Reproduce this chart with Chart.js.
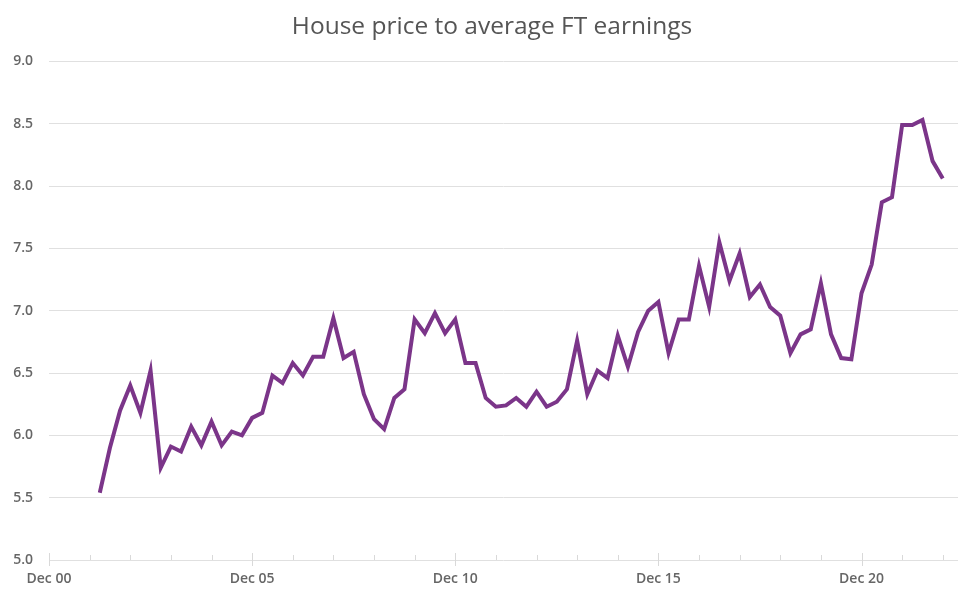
<!DOCTYPE html>
<html>
<head>
<meta charset="utf-8">
<title>House price to average FT earnings</title>
<script src="https://cdn.jsdelivr.net/npm/chart.js@4"></script>
<style>
  html, body { margin: 0; padding: 0; background: #fff; }
  #wrap { width: 958px; height: 589px; }
</style>
</head>
<body>
<div id="wrap"><canvas id="ratioCanvas"></canvas></div>
<script>
// quarter index counted from Dec 2000 (0 = Dec 00, 4 = Dec 01, ...)
const firstQuarter = 5;

const ratio = [
  5.54, 5.90, 6.20, 6.40, 6.18, 6.52, 5.74, 5.91, 5.87, 6.07,
  5.92, 6.11, 5.92, 6.03, 6.00, 6.14, 6.18, 6.48, 6.42, 6.58,
  6.48, 6.63, 6.63, 6.94, 6.62, 6.67, 6.33, 6.13, 6.05, 6.30,
  6.37, 6.93, 6.82, 6.98, 6.82, 6.93, 6.58, 6.58, 6.30, 6.23,
  6.24, 6.30, 6.23, 6.35, 6.23, 6.27, 6.37, 6.76, 6.33, 6.52,
  6.46, 6.80, 6.55, 6.83, 7.00, 7.07, 6.66, 6.93, 6.93, 7.36,
  7.03, 7.55, 7.24, 7.46, 7.11, 7.21, 7.03, 6.96, 6.66, 6.81,
  6.85, 7.22, 6.81, 6.62, 6.61, 7.14, 7.37, 7.87, 7.91, 8.49,
  8.49, 8.53, 8.20, 8.06
];

const yearTicks = [0, 4, 8, 12, 16, 20, 24, 28, 32, 36, 40, 44, 48, 52, 56, 60, 64, 68, 72, 76, 80, 84, 88];
const yTicks = [5.0, 5.5, 6.0, 6.5, 7.0, 7.5, 8.0, 8.5, 9.0];

const points = ratio.map((v, i) => ({ x: firstQuarter + i, y: v }));

function decLabel(q) {
  const yr = q / 4;
  return "Dec " + String(yr).padStart(2, "0");
}

// small year ticks, longer ones every five years
const xTickMarks = {
  id: "xTickMarks",
  afterLayout(chart) {
    // title sits a little right of the canvas centre
    if (chart.titleBlock) {
      chart.titleBlock.left += 13;
      chart.titleBlock.right += 13;
    }
  },
  afterDraw(chart) {
    const sx = chart.scales.x;
    const bottom = chart.chartArea.bottom;
    const ctx = chart.ctx;
    ctx.save();
    ctx.strokeStyle = "#d9d9d9";
    ctx.lineWidth = 1;
    yearTicks.forEach((q) => {
      const px = Math.round(sx.getPixelForValue(q)) + 0.5;
      ctx.beginPath();
      if (q % 20 === 0) {
        ctx.moveTo(px, bottom - 7);
        ctx.lineTo(px, bottom + 6);
      } else {
        ctx.moveTo(px, bottom - 5);
        ctx.lineTo(px, bottom);
      }
      ctx.stroke();
    });
    ctx.restore();
  }
};

Chart.defaults.font.family = "'Open Sans', 'Noto Sans', sans-serif";

const config = {
  type: "line",
  data: {
    datasets: [
      {
        label: "House price to average FT earnings",
        data: points,
        borderColor: "#7b3589",
        backgroundColor: "#7b3589",
        borderWidth: 4,
        pointRadius: 0,
        tension: 0,
      },
    ],
  },
  options: {
    responsive: true,
    maintainAspectRatio: false,
    animation: false,
    layout: { padding: { top: 12, left: 0, right: 0, bottom: 0 } },
    plugins: {
      legend: { display: false },
      tooltip: { enabled: false },
      title: {
        display: true,
        text: "House price to average FT earnings",
        color: "#555555",
        font: { size: 24.5, weight: "normal" },
        padding: { top: 0, bottom: 20 },
      },
    },
    scales: {
      x: {
        type: "linear",
        min: 0,
        max: 89.5,
        afterBuildTicks: (scale) => {
          scale.ticks = yearTicks.map((v) => ({ value: v }));
        },
        afterFit: (scale) => {
          scale.height = 29;
        },
        grid: { display: false, drawTicks: false },
        border: { display: false },
        ticks: {
          autoSkip: false,
          maxRotation: 0,
          padding: 11,
          color: "#666666",
          font: { size: 14, weight: "600" },
          callback: (v) => (v % 20 === 0 ? decLabel(v) : ""),
        },
      },
      y: {
        min: 5,
        max: 9,
        afterBuildTicks: (scale) => {
          scale.ticks = yTicks.map((v) => ({ value: v }));
        },
        afterFit: (scale) => {
          scale.width = 49;
        },
        grid: { color: "#e0e0e0", drawTicks: false },
        border: { display: false },
        ticks: {
          padding: 16,
          color: "#666666",
          font: { size: 14, weight: "600" },
          callback: (v) => Number(v).toFixed(1),
        },
      },
    },
  },
  plugins: [xTickMarks],
};

const canvas = document.getElementById("ratioCanvas");
if (canvas) {
  new Chart(canvas.getContext("2d"), config);
} else {
  console.error("canvas not found");
}
</script>
</body>
</html>
